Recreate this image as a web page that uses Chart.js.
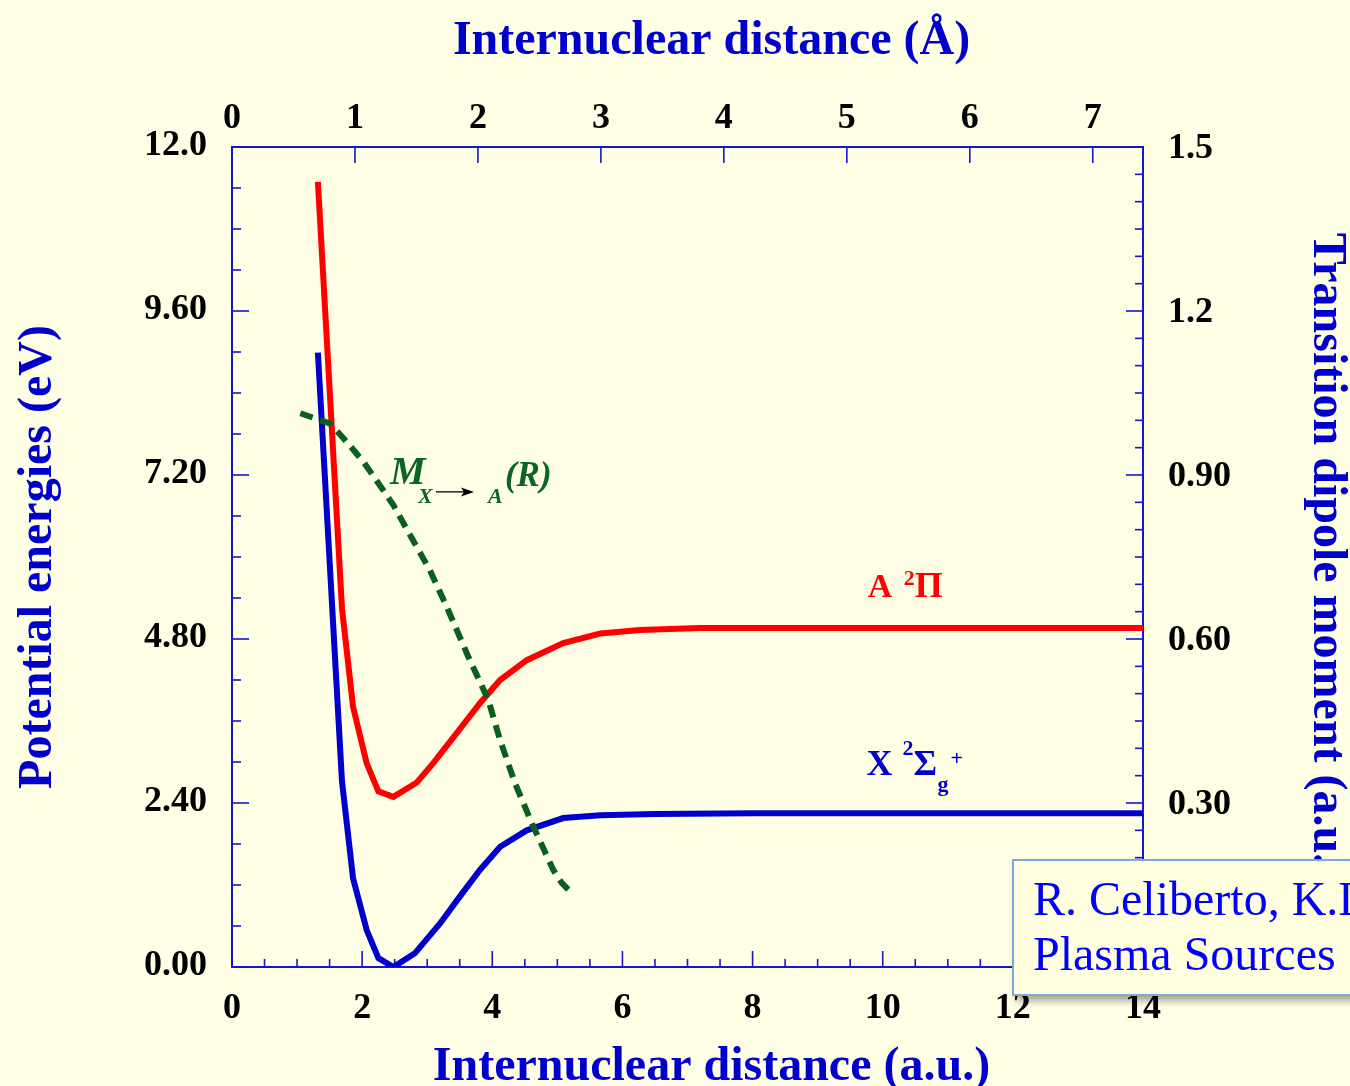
<!DOCTYPE html>
<html>
<head>
<meta charset="utf-8">
<script src="https://cdn.jsdelivr.net/npm/chart.js@4.4.1/dist/chart.umd.min.js"></script>
<style>
html,body{margin:0;padding:0;background:#FFFFE5;overflow:hidden;width:1350px;height:1086px;}
#c{position:absolute;left:0;top:0;}
#ref{position:absolute;left:1012px;top:859px;width:430px;height:137px;background:#FFFFE0;border:2px solid #7FA9DA;box-shadow:4px 5px 7px rgba(0,0,0,0.35);font-family:'Liberation Serif','Times New Roman',serif;font-size:48px;color:#0000FF;line-height:55px;padding:10px 0 0 19px;box-sizing:border-box;white-space:nowrap;z-index:2;}
</style>
</head>
<body>
<canvas id="c" width="1350" height="1086"></canvas>
<div id="ref">R. Celiberto, K.L. Laricchiuta<br>Plasma Sources Sci. Technol.</div>
<script>
// ---- data ----
// X 2Sigma_g+ ground state: internuclear distance (a.u.) / energy (eV)
const R_X = [1.32, 1.69, 1.86, 2.07, 2.25, 2.48, 2.81, 3.20, 3.50, 3.81, 4.12, 4.53, 5.09, 5.66, 6.5, 8.0, 10.0, 12.0, 14.0];
const E_X = [8.99, 2.72, 1.30, 0.54, 0.13, 0.00, 0.20, 0.64, 1.03, 1.42, 1.76, 2.00, 2.18, 2.22, 2.24, 2.25, 2.25, 2.25, 2.25];
// A 2Pi state
const R_A = [1.32, 1.69, 1.86, 2.07, 2.25, 2.48, 2.84, 3.09, 3.45, 3.81, 4.12, 4.53, 5.09, 5.66, 6.27, 7.19, 8.5, 10.0, 12.0, 14.0];
const E_A = [11.49, 5.25, 3.81, 2.98, 2.57, 2.49, 2.70, 2.98, 3.42, 3.86, 4.20, 4.49, 4.74, 4.88, 4.93, 4.96, 4.96, 4.96, 4.96, 4.96];
// Transition dipole moment M X->A (a.u.)
const R_M = [1.05, 1.51, 1.76, 2.02, 2.25, 2.48, 2.68, 3.04, 3.30, 3.63, 3.94, 4.12, 4.35, 4.63, 4.94, 5.06, 5.22];
const M_XA = [1.013, 0.994, 0.961, 0.924, 0.885, 0.845, 0.802, 0.726, 0.659, 0.568, 0.488, 0.415, 0.336, 0.257, 0.177, 0.155, 0.135];

// tick labels
const bottomTickLabels = ["0", "2", "4", "6", "8", "10", "12", "14"];
const topTickLabels = ["0", "1", "2", "3", "4", "5", "6", "7"];
const leftTickLabels = ["0.00", "2.40", "4.80", "7.20", "9.60", "12.0"];
const rightTickLabels = ["", "0.30", "0.60", "0.90", "1.2", "1.5"];

const AU_PER_ANGSTROM = 1.8897;
const X_MAX = 14, E_MAX = 12, M_MAX = 1.5;
const X_STEP = 2, TOP_STEP = 1, E_STEP = 2.4, M_STEP = 0.3;
const X_MINOR = 0.5, E_MINOR = 0.6, M_MINOR = 0.05;

const FONT = "'Liberation Serif', 'Times New Roman', serif";
const AXIS = '#1515CC';
const TITLE = '#0000CC';
const tickFont = {family: FONT, weight: 'bold', size: 36, lineHeight: 1};
const titleFont = {family: FONT, weight: 'bold', size: 48, lineHeight: 1};

const pts = (xs, ys) => xs.map((x, i) => ({x: x, y: ys[i]}));

const inwardTicks = {
  id: 'inwardTicks',
  beforeDatasetsDraw(chart) {
    const ctx = chart.ctx;
    const s = chart.scales;
    ctx.save();
    ctx.strokeStyle = AXIS;
    ctx.lineWidth = 1.6;
    const run = (scale, step, majorStep, majLen, minLen, side) => {
      const n = Math.floor((scale.max - scale.min) / step + 1e-6);
      for (let i = 0; i <= n; i++) {
        const v = scale.min + i * step;
        const isMajor = Math.abs(v / majorStep - Math.round(v / majorStep)) < 1e-6;
        const len = isMajor ? majLen : minLen;
        if (!len) continue;
        const p = scale.getPixelForValue(v);
        ctx.beginPath();
        if (side === 'bottom') { ctx.moveTo(p, scale.top); ctx.lineTo(p, scale.top - len); }
        if (side === 'top') { ctx.moveTo(p, scale.bottom); ctx.lineTo(p, scale.bottom + len); }
        if (side === 'left') { ctx.moveTo(scale.right, p); ctx.lineTo(scale.right + len, p); }
        if (side === 'right') { ctx.moveTo(scale.left, p); ctx.lineTo(scale.left - len, p); }
        ctx.stroke();
      }
    };
    run(s.x, X_MINOR, X_STEP, 16, 8, 'bottom');
    run(s.x2, TOP_STEP, TOP_STEP, 16, 0, 'top');
    run(s.y, E_MINOR, E_STEP, 17, 9, 'left');
    run(s.y2, M_MINOR, M_STEP, 17, 8, 'right');
    ctx.restore();
  }
};

const labelsPlugin = {
  id: 'labels',
  afterDraw(chart) {
    const ctx = chart.ctx;
    const a = chart.chartArea;
    const xs = chart.scales.x, ys = chart.scales.y;
    ctx.save();
    ctx.textBaseline = 'alphabetic';
    // x-axis titles
    ctx.font = `bold 48px ${FONT}`;
    ctx.fillStyle = TITLE;
    ctx.textAlign = 'center';
    const cx = (a.left + a.right) / 2 + 24;
    ctx.fillText('Internuclear distance (Å)', cx, a.top - 93);
    ctx.fillText('Internuclear distance (a.u.)', cx, a.bottom + 113);
    ctx.textAlign = 'left';
    const piece = (txt, font, color, x, y) => { ctx.font = font; ctx.fillStyle = color; ctx.fillText(txt, x, y); };
    // A 2Pi
    let x0 = xs.getPixelForValue(9.77), y0 = ys.getPixelForValue(5.41);
    piece('A', `bold 34px ${FONT}`, '#FF0000', x0, y0);
    piece('2', `bold 22px ${FONT}`, '#FF0000', x0 + 36, y0 - 12);
    piece('Π', `bold 36px ${FONT}`, '#FF0000', x0 + 47, y0);
    // X 2Sigma_g+
    x0 = xs.getPixelForValue(9.75); y0 = ys.getPixelForValue(2.81);
    piece('X', `bold 36px ${FONT}`, '#0000CC', x0, y0);
    piece('2', `bold 22px ${FONT}`, '#0000CC', x0 + 36, y0 - 20);
    piece('Σ', `bold 36px ${FONT}`, '#0000CC', x0 + 47, y0);
    piece('g', `bold 22px ${FONT}`, '#0000CC', x0 + 71, y0 + 16);
    piece('+', `bold 22px ${FONT}`, '#0000CC', x0 + 84, y0 - 10);
    // M X->A (R)
    const G = '#0B6623';
    x0 = xs.getPixelForValue(2.443); y0 = ys.getPixelForValue(7.07);
    piece('M', `italic bold 40px ${FONT}`, G, x0 - 1, y0);
    piece('X', `italic bold 22px ${FONT}`, G, x0 + 27, y0 + 19);
    ctx.strokeStyle = '#000'; ctx.fillStyle = '#000'; ctx.lineWidth = 1.3;
    ctx.beginPath(); ctx.moveTo(x0 + 45, y0 + 8); ctx.lineTo(x0 + 76, y0 + 8); ctx.stroke();
    ctx.beginPath(); ctx.moveTo(x0 + 83, y0 + 8); ctx.lineTo(x0 + 70, y0 + 3.5); ctx.lineTo(x0 + 73, y0 + 8); ctx.lineTo(x0 + 70, y0 + 12.5); ctx.closePath(); ctx.fill();
    piece('A', `italic bold 22px ${FONT}`, G, x0 + 97, y0 + 19);
    piece('(R)', `italic bold 35px ${FONT}`, G, x0 + 114, y0 + 2);
    ctx.restore();
  }
};

const commonTicks = {color: '#000', font: tickFont, autoSkip: false, maxRotation: 0, minRotation: 0};
const noGrid = {display: false, drawTicks: false, tickLength: 0};
const frame = {display: true, color: AXIS, width: 2};

new Chart(document.getElementById('c'), {
  type: 'line',
  data: {
    datasets: [
      {label: 'M X→A(R)', data: pts(R_M, M_XA), xAxisID: 'x', yAxisID: 'y2', borderColor: '#0A5E1E', borderWidth: 6, borderDash: [13, 8], pointRadius: 0, tension: 0, fill: false, order: 0},
      {label: 'A 2Π', data: pts(R_A, E_A), xAxisID: 'x', yAxisID: 'y', borderColor: '#FF0000', borderWidth: 6, pointRadius: 0, tension: 0, fill: false, order: 1},
      {label: 'X 2Σg+', data: pts(R_X, E_X), xAxisID: 'x', yAxisID: 'y', borderColor: '#0000CC', borderWidth: 6, pointRadius: 0, tension: 0, fill: false, order: 2}
    ]
  },
  options: {
    responsive: false,
    animation: false,
    layout: {padding: 0},
    plugins: {legend: {display: false}, tooltip: {enabled: false}},
    scales: {
      x: {
        type: 'linear', position: 'bottom', min: 0, max: X_MAX,
        afterFit(s) { s.height = 119; },
        grid: noGrid, border: frame,
        ticks: Object.assign({}, commonTicks, {stepSize: X_STEP, padding: 24, callback: (v) => bottomTickLabels[Math.round(v / X_STEP)]})
      },
      x2: {
        type: 'linear', position: 'top', min: 0, max: X_MAX / AU_PER_ANGSTROM,
        afterFit(s) { s.height = 147; },
        grid: noGrid, border: frame,
        ticks: Object.assign({}, commonTicks, {stepSize: TOP_STEP, includeBounds: false, padding: 10, callback: (v) => topTickLabels[Math.round(v / TOP_STEP)]})
      },
      y: {
        type: 'linear', position: 'left', min: 0, max: E_MAX,
        afterFit(s) { s.width = 232; },
        grid: noGrid, border: frame,
        ticks: Object.assign({}, commonTicks, {stepSize: E_STEP, padding: 25, labelOffset: -1, callback: (v) => leftTickLabels[Math.round(v / E_STEP)]}),
        title: {display: true, text: 'Potential energies (eV)', color: TITLE, font: titleFont, padding: {top: 15, bottom: 0}}
      },
      y2: {
        type: 'linear', position: 'right', min: 0, max: M_MAX,
        afterFit(s) { s.width = 207; },
        grid: noGrid, border: frame,
        ticks: Object.assign({}, commonTicks, {stepSize: M_STEP, padding: 25, labelOffset: 2, callback: (v) => rightTickLabels[Math.round(v / M_STEP)]}),
        title: {display: true, text: 'Transition dipole moment (a.u.)', color: TITLE, font: titleFont, padding: {top: 0, bottom: 0}}
      }
    }
  },
  plugins: [inwardTicks, labelsPlugin]
});
</script>
</body>
</html>
